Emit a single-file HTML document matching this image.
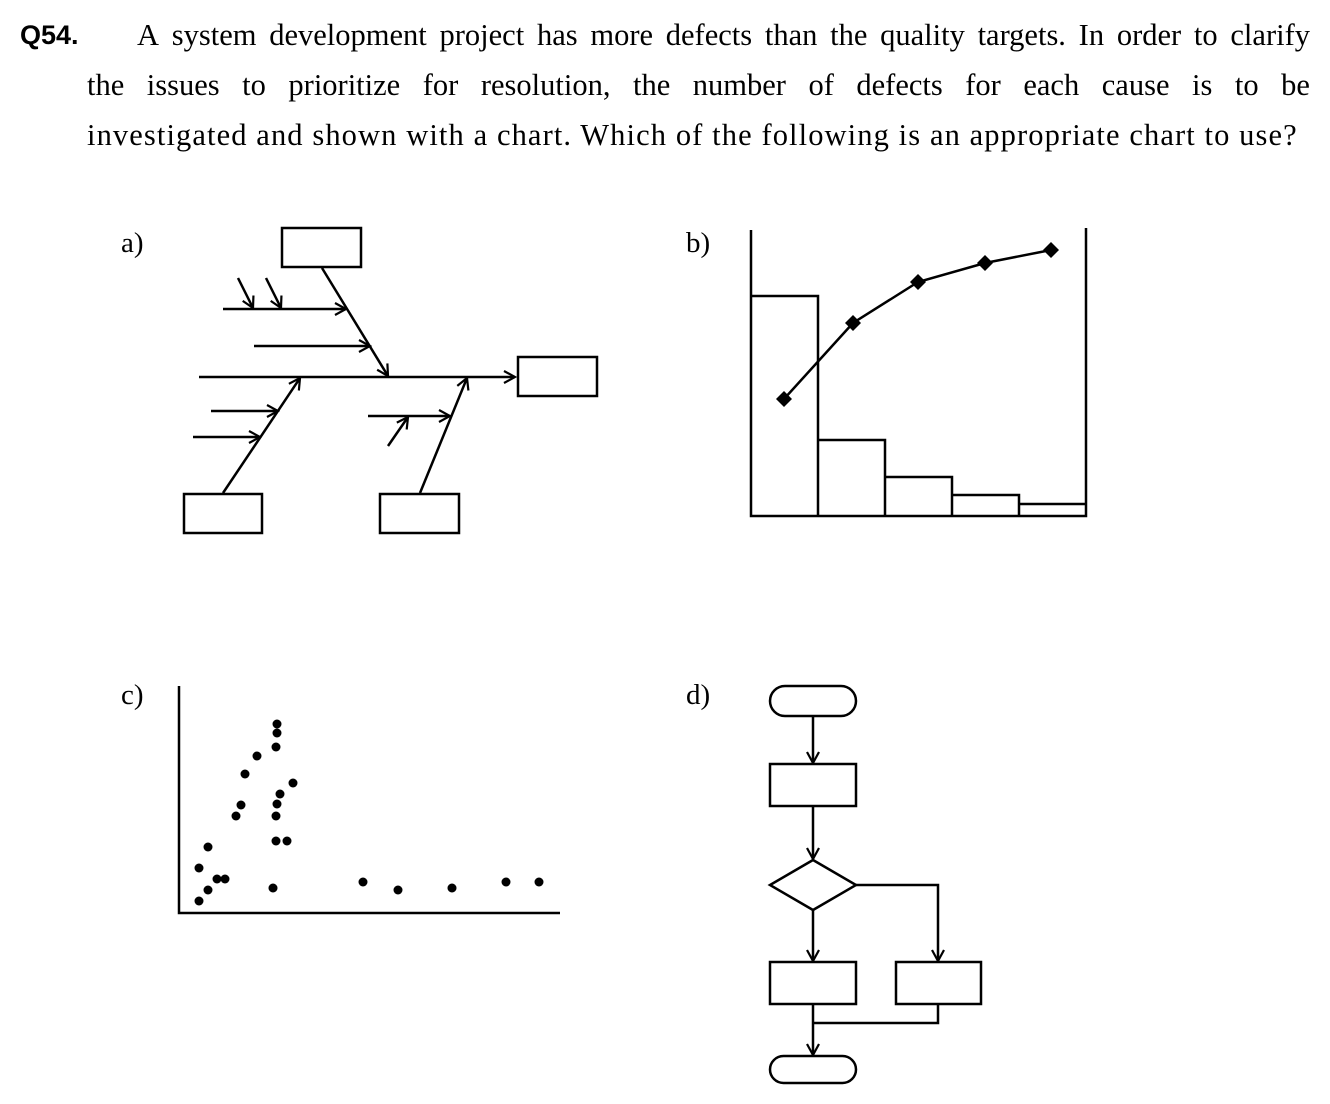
<!DOCTYPE html>
<html><head><meta charset="utf-8"><style>
body{margin:0;background:#fff;width:1330px;height:1104px;overflow:hidden;position:relative;font-family:"Liberation Serif",serif;}
.q{position:absolute;left:20px;top:20px;font:bold 27px "Liberation Sans",sans-serif;}
.t{position:absolute;font-size:30.5px;line-height:50px;white-space:nowrap;}
.l{position:absolute;font-size:29px;}
svg{position:absolute;left:0;top:0}
</style></head><body>
<div class="q">Q54.</div>
<div class="t" style="left:137px;top:10px;width:1173px;display:flex;justify-content:space-between"><span>A</span><span>system</span><span>development</span><span>project</span><span>has</span><span>more</span><span>defects</span><span>than</span><span>the</span><span>quality</span><span>targets.</span><span>In</span><span>order</span><span>to</span><span>clarify</span></div>
<div class="t" style="left:87px;top:60px;width:1223px;display:flex;justify-content:space-between"><span>the</span><span>issues</span><span>to</span><span>prioritize</span><span>for</span><span>resolution,</span><span>the</span><span>number</span><span>of</span><span>defects</span><span>for</span><span>each</span><span>cause</span><span>is</span><span>to</span><span>be</span></div>
<div class="t" style="left:87px;top:110px;letter-spacing:1.1px">investigated and shown with a chart. Which of the following is an appropriate chart to use?</div>
<div class="l" style="left:121px;top:227px">a)</div>
<div class="l" style="left:686px;top:227px">b)</div>
<div class="l" style="left:121px;top:679px">c)</div>
<div class="l" style="left:686px;top:679px">d)</div>
<svg width="1330" height="1104" fill="none" stroke="#000" stroke-width="2.5">
<defs><marker id="a" markerWidth="14" markerHeight="14" refX="12" refY="7" orient="auto" markerUnits="userSpaceOnUse"><path d="M1,1 L12,7 L1,13" fill="none" stroke="#000" stroke-width="2.2"/></marker></defs>
<rect x="282" y="228" width="79" height="39"/>
<rect x="518" y="357" width="79" height="39"/>
<rect x="184" y="494" width="78" height="39"/>
<rect x="380" y="494" width="79" height="39"/>
<line x1="199" y1="377" x2="515" y2="377" marker-end="url(#a)"/>
<line x1="322" y1="268" x2="388" y2="376" marker-end="url(#a)"/>
<line x1="223" y1="309" x2="346" y2="309" marker-end="url(#a)"/>
<line x1="254" y1="346" x2="370" y2="346" marker-end="url(#a)"/>
<line x1="238" y1="278" x2="253" y2="308" marker-end="url(#a)"/>
<line x1="266" y1="278" x2="281" y2="308" marker-end="url(#a)"/>
<line x1="223" y1="493" x2="300" y2="378" marker-end="url(#a)"/>
<line x1="211" y1="411" x2="278" y2="411" marker-end="url(#a)"/>
<line x1="193" y1="437" x2="260" y2="437" marker-end="url(#a)"/>
<line x1="420" y1="493" x2="467" y2="378" marker-end="url(#a)"/>
<line x1="368" y1="416" x2="450" y2="416" marker-end="url(#a)"/>
<line x1="388" y1="446" x2="408" y2="417" marker-end="url(#a)"/>
<polyline points="751,230 751,516 1086,516 1086,228"/>
<polyline points="751,296 818,296 818,516"/>
<polyline points="818,440 885,440 885,516"/>
<polyline points="885,477 952,477 952,516"/>
<polyline points="952,495 1019,495 1019,516"/>
<polyline points="1019,504 1086,504"/>
<polyline points="784,399 853,323 918,282 985,263 1051,250"/>
<g fill="#000" stroke="none">
<path d="M784,391l8,8l-8,8l-8,-8z"/><path d="M853,315l8,8l-8,8l-8,-8z"/><path d="M918,274l8,8l-8,8l-8,-8z"/><path d="M985,255l8,8l-8,8l-8,-8z"/><path d="M1051,242l8,8l-8,8l-8,-8z"/>
</g>
<polyline points="179,686 179,913 560,913"/>
<g fill="#000" stroke="none">
<circle cx="277" cy="724" r="4.5"/><circle cx="277" cy="733" r="4.5"/><circle cx="276" cy="747" r="4.5"/><circle cx="257" cy="756" r="4.5"/><circle cx="245" cy="774" r="4.5"/><circle cx="293" cy="783" r="4.5"/><circle cx="280" cy="794" r="4.5"/><circle cx="277" cy="804" r="4.5"/><circle cx="241" cy="805" r="4.5"/><circle cx="276" cy="816" r="4.5"/><circle cx="236" cy="816" r="4.5"/><circle cx="276" cy="841" r="4.5"/><circle cx="287" cy="841" r="4.5"/><circle cx="208" cy="847" r="4.5"/><circle cx="199" cy="868" r="4.5"/><circle cx="217" cy="879" r="4.5"/><circle cx="225" cy="879" r="4.5"/><circle cx="208" cy="890" r="4.5"/><circle cx="273" cy="888" r="4.5"/><circle cx="199" cy="901" r="4.5"/><circle cx="363" cy="882" r="4.5"/><circle cx="398" cy="890" r="4.5"/><circle cx="452" cy="888" r="4.5"/><circle cx="506" cy="882" r="4.5"/><circle cx="539" cy="882" r="4.5"/>
</g>
<rect x="770" y="686" width="86" height="30" rx="15"/>
<line x1="813" y1="716" x2="813" y2="763" marker-end="url(#a)"/>
<rect x="770" y="764" width="86" height="42"/>
<line x1="813" y1="806" x2="813" y2="859" marker-end="url(#a)"/>
<path d="M813,860 L856,885 L813,910 L770,885 Z"/>
<polyline points="856,885 938,885 938,961" marker-end="url(#a)"/>
<line x1="813" y1="910" x2="813" y2="961" marker-end="url(#a)"/>
<rect x="770" y="962" width="86" height="42"/>
<rect x="896" y="962" width="85" height="42"/>
<polyline points="938,1004 938,1023 813,1023"/>
<line x1="813" y1="1004" x2="813" y2="1055" marker-end="url(#a)"/>
<rect x="770" y="1056" width="86" height="27" rx="13.5"/>
</svg>
</body></html>
